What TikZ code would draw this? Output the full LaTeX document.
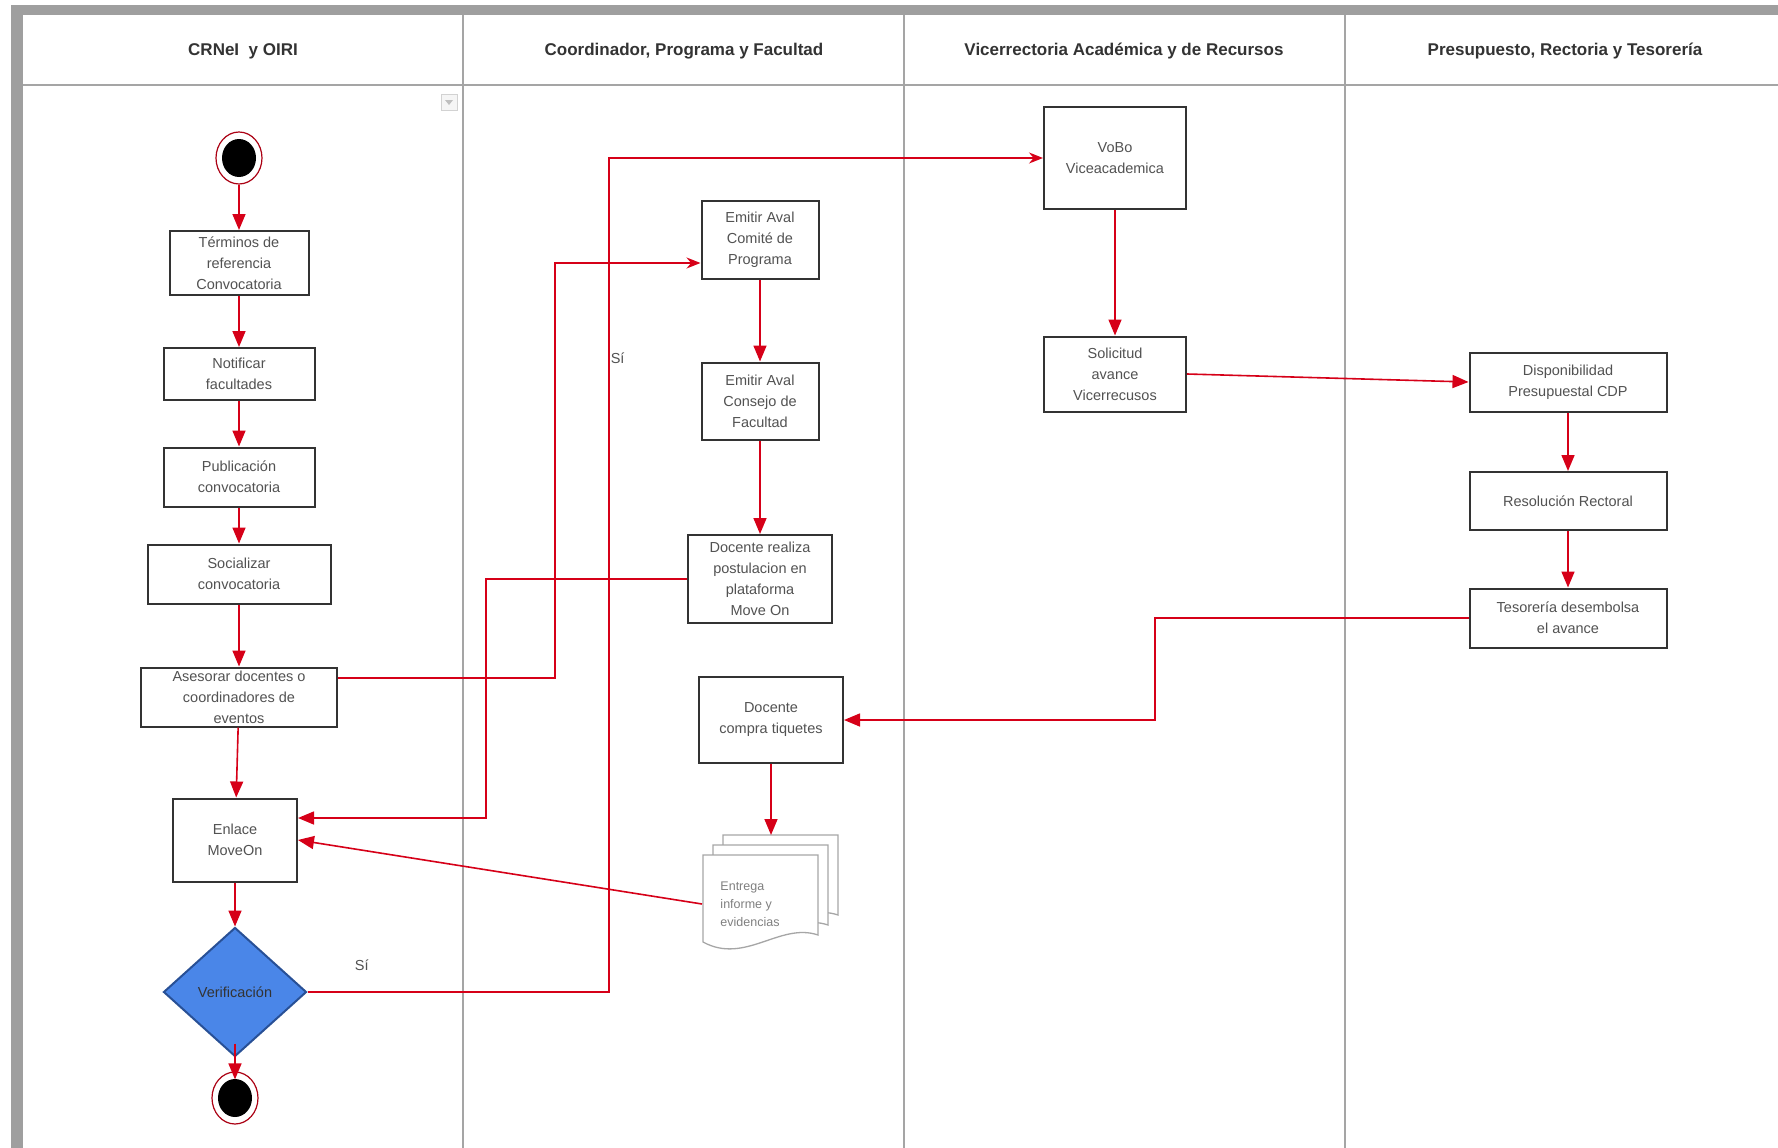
\documentclass[tikz,border=0pt]{standalone}
\usepackage{fontspec}
\setmainfont{Liberation Sans}
\usetikzlibrary{arrows.meta,shapes.geometric}
\definecolor{flecha}{RGB}{214,0,24}
\definecolor{borde}{RGB}{51,51,51}
\definecolor{carril}{RGB}{165,165,165}
\definecolor{rombo}{RGB}{74,134,232}
\definecolor{rombob}{RGB}{40,80,150}
\tikzset{
    caja/.style={draw=borde, line width=2pt, fill=white, align=center, inner sep=0pt,
        text=borde!85, font=\fontsize{14.5}{21}\selectfont},
    flujo/.style={draw=flecha, line width=1.6pt, -{Triangle[length=16pt,width=13pt]}},
    flujofino/.style={draw=flecha, line width=1.6pt, -{Stealth[length=14pt,width=11pt]}},
    carrilt/.style={font=\fontsize{17}{20}\selectfont\bfseries, text=borde},
    etiq/.style={font=\fontsize{14.5}{17}\selectfont, text=borde!85, inner sep=1pt},
}
\begin{document}
\begin{tikzpicture}[x=1pt,y=-1pt]
        \useasboundingbox (0,0) rectangle (1778,1148);
        %lanes:
        \fill[white] (0,0) rectangle (1778,1148);
        \fill[gray!75] (11,5) rectangle (1778,15);
        \fill[gray!75] (11,5) rectangle (23,1148);
        \draw[carril, line width=1.5pt] (23,85) -- (1778,85);
        \foreach \x in {463,904,1345}{
            \draw[carril, line width=1.5pt] (\x,15) -- (\x,1148);
        }
        \foreach \x/\n/\l in {243/h1/{CRNeI\ \ y OIRI},684/h2/{Coordinador, Programa y Facultad},1124/h3/{Vicerrectoria Académica y de Recursos},1565/h4/{Presupuesto, Rectoria y Tesorería}}{
            \node[carrilt] (\n) at (\x,51) {\l};
        }
        \node[draw=gray!35, fill=gray!8, minimum size=16pt, inner sep=0pt] (menu) at (449,102) {};
        \fill[gray!50] (445,100) -- (453,100) -- (449,105) -- cycle;

        %start and end:
        \foreach \x/\y/\n in {239/158/inicio,235/1098/fin}{
            \node[ellipse, draw=flecha!80!black, line width=1.2pt, fill=white,
                minimum width=46pt, minimum height=52pt, inner sep=0pt] (\n) at (\x,\y) {};
            \node[ellipse, fill=black, minimum width=34pt, minimum height=38pt, inner sep=0pt] (\n n) at (\x,\y) {};
        }

        %boxes:
        \foreach \x/\y/\w/\h/\n/\l in {
            239/263/139/64/terminos/Términos de\\referencia\\Convocatoria,
            239/374/151/52/notificar/Notificar\\facultades,
            239/477/151/59/publicacion/Publicación\\convocatoria,
            239/574/183/59/socializar/Socializar\\convocatoria,
            239/697/196/59/asesorar/Asesorar docentes o\\coordinadores de\\eventos,
            235/840/124/83/enlace/Enlace\\MoveOn,
            760/240/117/78/comite/Emitir Aval\\Comité de\\Programa,
            760/401/117/77/consejo/Emitir Aval\\Consejo de\\Facultad,
            760/579/144/88/postula/Docente realiza\\postulacion en\\plataforma\\Move On,
            771/720/144/86/compra/Docente\\compra tiquetes,
            1115/158/142/102/vobo/VoBo\\Viceacademica,
            1115/374/142/75/solicitud/Solicitud\\avance\\Vicerrecusos,
            1568/382/197/59/cdp/Disponibilidad\\Presupuestal CDP,
            1568/501/197/58/resolucion/Resolución Rectoral,
            1568/618/197/59/tesoreria/Tesorería desembolsa\\el avance}{
            \node[caja, minimum width=\w pt, minimum height=\h pt] (\n) at (\x,\y) {\l};
        }
        \node[diamond, draw=rombob, line width=2pt, fill=rombo, minimum width=143pt, minimum height=129pt,
            inner sep=0pt, text=black!80, font=\fontsize{14.5}{17}\selectfont] (verif) at (235,992) {Verificación};

        %document stack:
        \foreach \d in {20,10,0}{
            \draw[gray!70, line width=1.3pt, fill=white] (703+\d,855-\d) -- (818+\d,855-\d) -- (818+\d,935-\d)
                .. controls (780+\d,922-\d) and (745+\d,965-\d) .. (703+\d,942-\d) -- cycle;
        }
        \node[align=left, text=gray, font=\fontsize{12.5}{18}\selectfont, inner sep=0pt] (entrega) at (750,904) {Entrega\\informe y\\evidencias};
        \coordinate (entregaw) at (702,904);
        \coordinate (entregan) at (771,835);

        %connectors:
        \foreach \a/\b in {inicio/terminos,terminos/notificar,notificar/publicacion,publicacion/socializar,socializar/asesorar,asesorar/enlace,enlace/verif,comite/consejo,consejo/postula,vobo/solicitud,cdp/resolucion,resolucion/tesoreria,compra/entregan}{
            \draw[flujo] (\a) -- (\b);
        }
        \draw[flujo] ([yshift=14pt]verif.south) -- ([yshift=-8pt]fin.north);
        \draw[flujofino] ([yshift=19pt]asesorar.east) -- ++(217,0) |- ([yshift=-23pt]comite.west);
        \draw[flujo] (postula.west) -- ++(-201,0) |- ([yshift=22pt]enlace.east);
        \draw[flujo] (entregaw) -- (enlace.east);
        \draw[flujofino] (verif.east) -- ++(301.5,0) node[etiq, pos=0.18, above=20pt]{Sí}
            |- node[etiq, pos=0.38, right]{Sí} (vobo.west);
        \draw[flujo] (solicitud.east) -- (cdp.west);
        \draw[flujo] (tesoreria.west) -- ++(-313.5,0) |- (compra.east);
    \end{tikzpicture}
\end{document}
